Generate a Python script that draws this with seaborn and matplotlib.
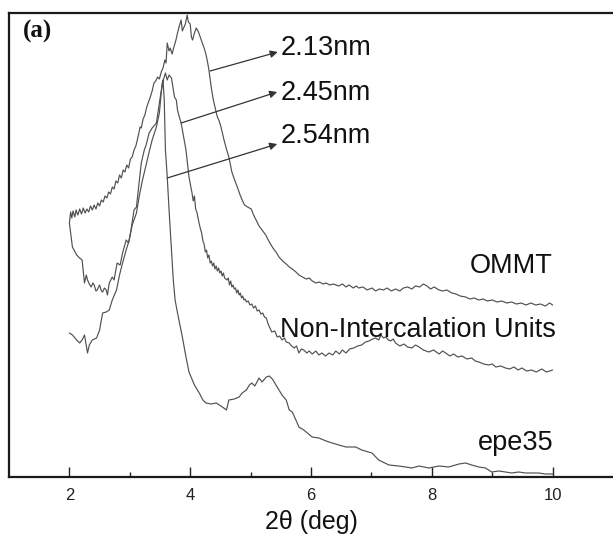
import matplotlib
matplotlib.use("Agg")
import matplotlib.pyplot as plt
import seaborn as sns
import pandas as pd

# ---------------- data (2theta in deg, intensity in a.u.) ----------------
ommt_x = [2.00, 2.02, 2.04, 2.06, 2.09, 2.11, 2.14, 2.17, 2.20, 2.23, 2.26, 2.29, 2.32, 2.35,
          2.38, 2.41, 2.44, 2.47, 2.50, 2.53, 2.56, 2.59, 2.62, 2.65, 2.68, 2.71, 2.74, 2.77,
          2.80, 2.83, 2.86, 2.89, 2.92, 2.95, 2.98, 3.01, 3.04, 3.07, 3.10, 3.12, 3.15, 3.17,
          3.19, 3.22, 3.25, 3.28, 3.31, 3.34, 3.37, 3.40, 3.43, 3.46, 3.49, 3.52, 3.55, 3.58,
          3.60, 3.62, 3.65, 3.67, 3.70, 3.73, 3.76, 3.79, 3.82, 3.85, 3.87, 3.89, 3.92, 3.95,
          3.97, 4.00, 4.02, 4.04, 4.07, 4.10, 4.13, 4.16, 4.20, 4.23, 4.26, 4.29, 4.31, 4.35,
          4.38, 4.41, 4.45, 4.48, 4.51, 4.56, 4.60, 4.64, 4.69, 4.73, 4.78, 4.82, 4.86, 4.90,
          4.95, 5.01, 5.05, 5.09, 5.14, 5.19, 5.25, 5.31, 5.37, 5.42, 5.47, 5.53, 5.59, 5.64,
          5.69, 5.75, 5.80, 5.86, 5.92, 5.97, 6.02, 6.08, 6.14, 6.20, 6.25, 6.31, 6.37, 6.46,
          6.52, 6.58, 6.63, 6.70, 6.75, 6.79, 6.86, 6.93, 7.01, 7.07, 7.13, 7.20, 7.26, 7.33,
          7.40, 7.47, 7.53, 7.60, 7.67, 7.73, 7.80, 7.86, 7.92, 7.98, 8.04, 8.12, 8.18, 8.25,
          8.33, 8.40, 8.47, 8.56, 8.63, 8.70, 8.78, 8.85, 8.92, 9.00, 9.08, 9.16, 9.24, 9.32,
          9.40, 9.48, 9.56, 9.64, 9.72, 9.80, 9.88, 9.95, 10.00]
ommt_y = [254, 265, 259, 266, 260, 267, 262, 268, 263, 269, 264, 268, 265, 271,
          267, 272, 268, 274, 271, 277, 275, 281, 279, 285, 283, 290, 288, 296,
          294, 302, 299, 307, 305, 312, 309, 318, 320, 327, 331, 336, 344, 350,
          349, 358, 362, 370, 375, 380, 386, 394, 396, 400, 398, 405, 409, 417,
          414, 434, 426, 429, 423, 430, 436, 444, 451, 457, 446, 449, 453, 462,
          455, 453, 440, 437, 444, 449, 446, 441, 434, 429, 423, 414, 407, 389,
          378, 370, 360, 356, 350, 337, 328, 320, 305, 298, 290, 283, 277, 272,
          270, 268, 262, 257, 251, 247, 242, 235, 229, 225, 220, 216, 213, 210,
          208, 205, 202, 200, 198, 199, 196, 194, 195, 193, 194, 192, 193, 191,
          193, 190, 192, 189, 191, 189, 190, 187, 189, 186, 188, 187, 189, 186,
          188, 186, 189, 190, 188, 191, 190, 193, 191, 188, 190, 187, 186, 187,
          184, 183, 181, 180, 178, 179, 177, 178, 176, 177, 175, 176, 174, 175,
          173, 174, 172, 174, 172, 173, 171, 174, 172]

nonint_x = [2.00, 2.05, 2.12, 2.17, 2.21, 2.25, 2.28, 2.30, 2.33, 2.36, 2.39, 2.41, 2.44,
            2.46, 2.50, 2.53, 2.55, 2.58, 2.61, 2.63, 2.66, 2.71, 2.74, 2.79, 2.84, 2.88,
            2.94, 2.98, 3.02, 3.07, 3.11, 3.16, 3.19, 3.24, 3.27, 3.32, 3.37, 3.44, 3.49,
            3.54, 3.59, 3.62, 3.65, 3.69, 3.74, 3.77, 3.79, 3.82, 3.85, 3.90, 3.93, 3.98,
            4.03,
            4.05, 4.07, 4.09, 4.11, 4.13, 4.15, 4.17, 4.19, 4.21, 4.23,
            4.25, 4.27, 4.29, 4.31, 4.33, 4.35, 4.37, 4.39, 4.41, 4.43,
            4.45, 4.47, 4.49, 4.51, 4.53, 4.55, 4.57, 4.59, 4.61, 4.63,
            4.65, 4.67, 4.69, 4.71, 4.73, 4.75, 4.77, 4.79, 4.81, 4.83,
            4.85, 4.87, 4.89, 4.91, 4.93, 4.96, 4.99, 5.02, 5.05, 5.08,
            5.11, 5.14, 5.17, 5.20, 5.23, 5.26, 5.29, 5.32, 5.35,
            5.40, 5.44, 5.48, 5.52, 5.56, 5.59, 5.64, 5.68, 5.72, 5.76,
            5.80, 5.84, 5.88, 5.93, 5.97, 6.02, 6.08, 6.13, 6.18, 6.24,
            6.30, 6.36, 6.41, 6.47, 6.52, 6.58, 6.64, 6.71, 6.77, 6.84,
            6.90, 6.96, 7.02, 7.07, 7.12, 7.16, 7.20, 7.24, 7.28, 7.32,
            7.36, 7.40, 7.47, 7.54, 7.60, 7.67, 7.73, 7.79, 7.86, 7.95,
            8.03, 8.12, 8.18, 8.23, 8.30, 8.36, 8.43, 8.50, 8.58, 8.66,
            8.72, 8.78, 8.86, 8.94, 9.00, 9.06, 9.14, 9.22, 9.29, 9.36,
            9.43, 9.49, 9.57, 9.65, 9.73, 9.82, 9.90, 10.00]
nonint_y = [254, 230, 222, 219, 217, 194, 202, 197, 193, 190, 194, 192, 186,
            187, 192, 186, 185, 189, 187, 182, 194, 200, 197, 214, 212, 224,
            237, 234, 247, 267, 270, 297, 314, 327, 332, 344, 349, 354, 374,
            394, 404, 397, 402, 399, 380, 377, 367, 360, 354, 337, 327, 300,
            284,
            276, 281, 268, 265, 259, 253, 248, 244, 236, 233,
            225, 227, 219, 222, 214, 216, 211, 214, 208, 211,
            206, 209, 204, 206, 201, 204, 199, 198, 197, 199,
            192, 196, 190, 192, 188, 189, 184, 187, 182, 184,
            179, 181, 177, 178, 175, 176, 172, 173, 169, 171,
            166, 167, 163, 164, 160, 159, 153, 149, 145,
            146, 140, 141, 137, 139, 135, 134, 131, 129, 131,
            124, 128, 127, 124, 126, 123, 126, 122, 124, 121,
            124, 122, 126, 123, 127, 124, 128, 129, 131, 132,
            135, 136, 138, 139, 137, 142, 139, 140, 137, 136,
            138, 134, 131, 133, 130, 129, 132, 130, 127, 125,
            127, 123, 126, 124, 121, 123, 120, 121, 118, 119,
            116, 115, 113, 112, 113, 110, 111, 109, 108, 110,
            107, 109, 106, 107, 105, 108, 105, 107]

epe_x = [2.00, 2.05, 2.12, 2.17, 2.21, 2.25, 2.30, 2.33, 2.38, 2.45, 2.50, 2.55, 2.61,
         2.66, 2.71, 2.78, 2.83, 2.88, 2.94, 2.99, 3.04, 3.11, 3.16, 3.21, 3.27, 3.32,
         3.37, 3.44, 3.49, 3.52, 3.54, 3.55, 3.57, 3.59, 3.62, 3.65, 3.69, 3.72, 3.75,
         3.79, 3.82, 3.87, 3.93, 3.98, 4.07, 4.15, 4.21, 4.26, 4.35, 4.43, 4.51, 4.60,
         4.64, 4.73, 4.81, 4.86, 4.93, 4.98, 5.02, 5.07, 5.14, 5.19, 5.26, 5.31, 5.36,
         5.42, 5.47, 5.52, 5.59, 5.64, 5.69, 5.75, 5.80, 5.88, 6.02, 6.13, 6.25, 6.35,
         6.46, 6.58, 6.74, 6.84, 7.01, 7.12, 7.29, 7.45, 7.57, 7.67, 7.79, 7.95, 8.12,
         8.28, 8.45, 8.56, 8.66, 8.78, 8.89, 8.99, 9.11, 9.22, 9.32, 9.44, 9.55, 9.65,
         9.77, 9.88, 10.00]
epe_y = [144, 142, 137, 134, 137, 142, 124, 132, 137, 139, 147, 164, 165,
         167, 177, 187, 202, 214, 227, 237, 252, 264, 282, 297, 312, 325,
         337, 350, 364, 384, 394, 397, 377, 327, 300, 267, 227, 197, 177,
         164, 155, 140, 120, 105, 92, 84, 77, 74, 73, 74, 71, 67,
         77, 78, 80, 84, 87, 92, 94, 91, 99, 95, 100, 101, 98,
         92, 87, 82, 77, 67, 65, 57, 50, 47, 40, 39, 36, 34,
         32, 30, 30, 27, 24, 17, 12, 11, 10, 9, 11, 9, 11,
         10, 13, 14, 12, 10, 9, 5, 6, 5, 4, 5, 4, 4,
         4, 3, 3]

series_names = ["OMMT", "Non-Intercalation Units", "epe35"]
d_spacing_labels = ["2.13nm", "2.45nm", "2.54nm"]
x_ticks = [2, 4, 6, 8, 10]

# ---------------- build long table ----------------
frames = []
for name, xs, ys in zip(series_names, [ommt_x, nonint_x, epe_x], [ommt_y, nonint_y, epe_y]):
    n = min(len(xs), len(ys))
    frames.append(pd.DataFrame({"two_theta": xs[:n], "intensity": ys[:n], "sample": name}))
df = pd.concat(frames, ignore_index=True)

sns.set_style("ticks")
plt.rcParams["font.family"] = ["Liberation Sans", "DejaVu Sans"]

fig = plt.figure(figsize=(6.13, 5.39), dpi=100)
ax = fig.add_axes([9 / 613, 1 - 477 / 539, 1 - 9 / 613, (477 - 13) / 539])

line_col = "#505050"
sns.lineplot(data=df, x="two_theta", y="intensity", units="sample", estimator=None,
             sort=False, color=line_col, lw=0.85, ax=ax, legend=False)

ax.set_xlim(1.0, 11.0)
ax.set_ylim(0, 464)
ax.set_xticks(x_ticks)
ax.set_xticklabels([str(t) for t in x_ticks], fontsize=12, color="#222222")
ax.set_xticks([3, 5, 7, 9], minor=True)
ax.tick_params(axis="x", which="major", direction="in", length=7.2, width=1.0,
               pad=8, color="#222222")
ax.tick_params(axis="x", which="minor", direction="in", length=3.6, width=1.0,
               color="#222222")
ax.set_yticks([])
ax.set_ylabel("")
ax.set_xlabel("2\u03b8 (deg)", fontsize=18, color="#111111", labelpad=5)

for side in ["left", "bottom", "top"]:
    ax.spines[side].set_visible(True)
    ax.spines[side].set_linewidth(1.6)
    ax.spines[side].set_color("#1a1a1a")
ax.spines["right"].set_visible(False)

# series labels
lab_fs = 19.5
ax.text(10.0, 204, series_names[0], ha="right", va="baseline", fontsize=lab_fs, color="#111111")
ax.text(10.05, 140, series_names[1], ha="right", va="baseline", fontsize=lab_fs, color="#111111")
ax.text(10.02, 27, series_names[2], ha="right", va="baseline", fontsize=lab_fs, color="#111111")

# d-spacing annotations
arrow_starts = [(4.33, 406), (3.85, 354), (3.62, 299)]
arrow_heads = [(5.45, 425), (5.44, 385), (5.44, 333)]
text_base = [422, 377, 334]
for lab, st, hd, tb in zip(d_spacing_labels, arrow_starts, arrow_heads, text_base):
    ax.annotate("", xy=hd, xytext=st,
                arrowprops=dict(arrowstyle="-|>", color="#333333", lw=0.9,
                                mutation_scale=11, shrinkA=0, shrinkB=0))
    ax.text(5.50, tb, lab, ha="left", va="baseline", fontsize=lab_fs, color="#111111")

ax.text(0.023, 0.985, "(a)", transform=ax.transAxes, ha="left", va="top",
        fontsize=18, fontweight="bold", family="Liberation Serif", color="#111111")

fig.savefig("out.png", dpi=100)
